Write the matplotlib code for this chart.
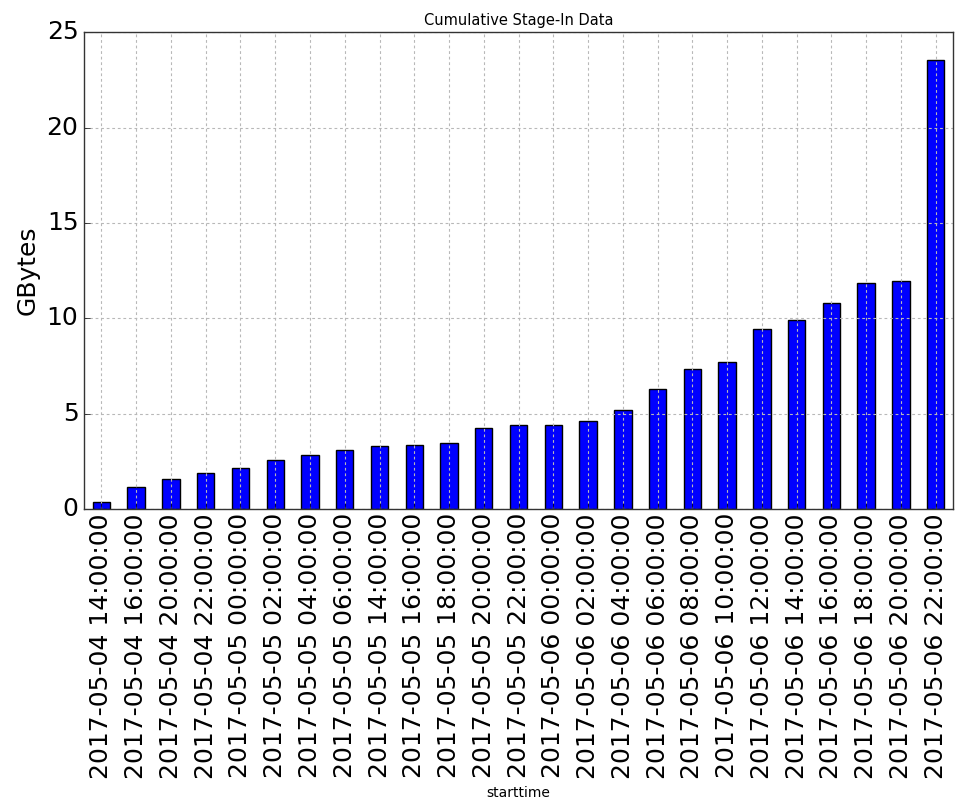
import matplotlib
matplotlib.use('Agg')
import matplotlib.pyplot as plt
import numpy as np

plt.style.use('classic')

# staged-in volume per time bin (GBytes, cumulative)
starttime = ['2017-05-04 14:00:00', '2017-05-04 16:00:00', '2017-05-04 20:00:00',
             '2017-05-04 22:00:00', '2017-05-05 00:00:00', '2017-05-05 02:00:00',
             '2017-05-05 04:00:00', '2017-05-05 06:00:00', '2017-05-05 14:00:00',
             '2017-05-05 16:00:00', '2017-05-05 18:00:00', '2017-05-05 20:00:00',
             '2017-05-05 22:00:00', '2017-05-06 00:00:00', '2017-05-06 02:00:00',
             '2017-05-06 04:00:00', '2017-05-06 06:00:00', '2017-05-06 08:00:00',
             '2017-05-06 10:00:00', '2017-05-06 12:00:00', '2017-05-06 14:00:00',
             '2017-05-06 16:00:00', '2017-05-06 18:00:00', '2017-05-06 20:00:00',
             '2017-05-06 22:00:00']
gbytes = [0.38, 1.14, 1.59, 1.87, 2.17, 2.55, 2.85, 3.08, 3.30, 3.37, 3.46, 4.26,
          4.42, 4.42, 4.63, 5.17, 6.29, 7.35, 7.70, 9.43, 9.89, 10.78, 11.83, 11.97,
          23.57]

fig = plt.figure(figsize=(9.55, 8.09), dpi=100, facecolor='white')
ax = fig.add_axes([0.088, 0.371, 0.910, 0.589])

x = np.arange(len(gbytes))
ax.bar(x, gbytes, width=0.5, align='center', color='blue', edgecolor='black', linewidth=1)
ax.set_xlim(-0.5, len(gbytes) - 0.5)
ax.set_ylim(0, 25)
ax.set_xticks(x)
ax.set_xticklabels(starttime, rotation=90, fontsize=18)
ax.tick_params(axis='y', labelsize=18)
ax.tick_params(axis='x', pad=3)
ax.tick_params(top=False, right=False)
ax.grid(True, color='#b8b8b8', linestyle=(0, (2, 2)), linewidth=0.8)
# keep the frame on top of the grid
for sp in ax.spines.values():
    sp.set_zorder(3)
    sp.set_color('#333333')

ax.set_title('Cumulative Stage-In Data', fontsize=10.5)
ax.set_xlabel('starttime', fontsize=10)
ax.set_ylabel('GBytes', fontsize=18)

fig.savefig('out.png', dpi=100, facecolor='white')
